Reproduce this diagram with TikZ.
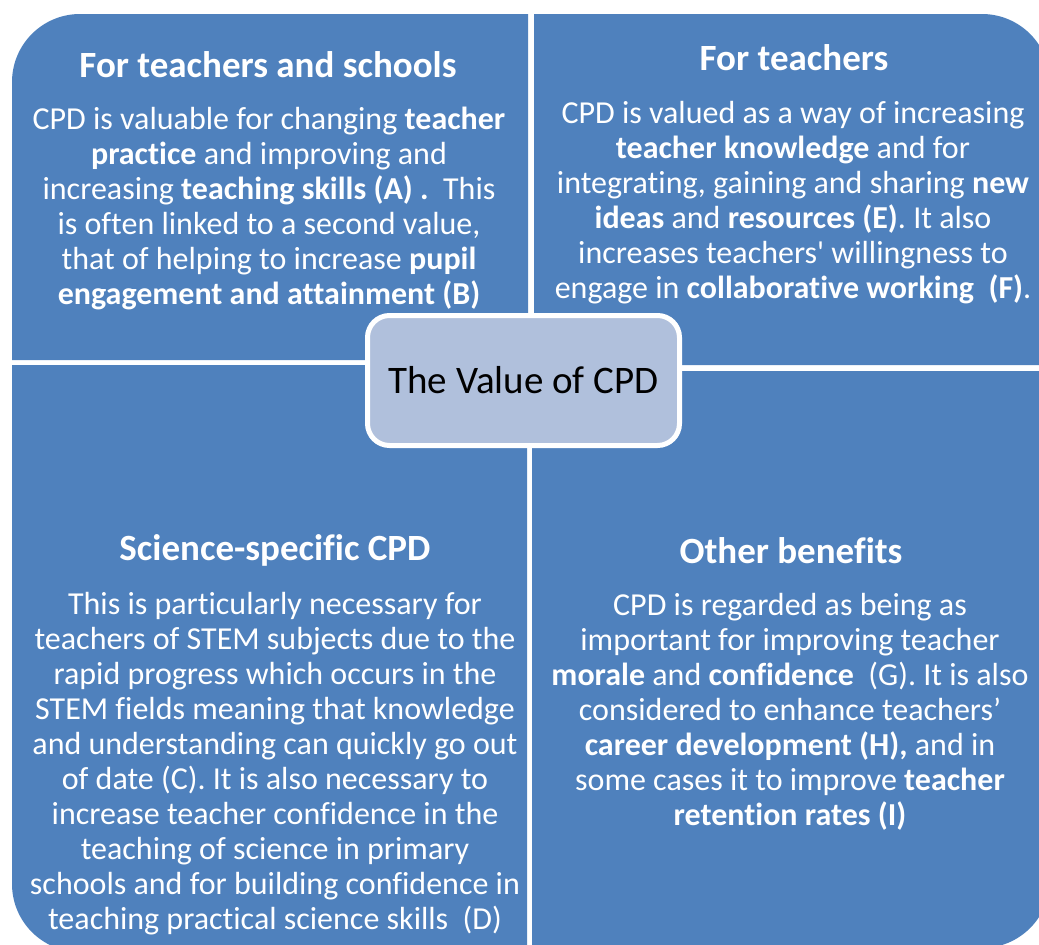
\documentclass[tikz,border=0pt]{standalone}
\usepackage{fontspec}
\setmainfont{Carlito}[Ligatures={TeX,NoCommon}]
\usetikzlibrary{positioning}
\definecolor{quadblue}{RGB}{79,129,189}
\definecolor{hubblue}{RGB}{176,192,220}

\begin{document}
\begin{tikzpicture}[x=1pt,y=-1pt,
  heading/.style={text=white, font=\fontsize{37}{43}\selectfont\bfseries, anchor=base, inner sep=0pt},
  blurb/.style={text=white, font=\fontsize{32}{35}\selectfont, align=center, anchor=base, inner sep=0pt},
  hub/.style={draw=white, line width=5pt, fill=hubblue, rounded corners=22pt,
    minimum width=312pt, minimum height=130pt, font=\fontsize{39}{45}\selectfont}]
% Basic parameters for corners
\def\bigradius{68pt}

% Fix the page size
\useasboundingbox (0,0) rectangle (1039,945);
\clip (0,0) rectangle (1039,945);

% Draw four quadrants
\fill[quadblue] (528,360) -- (12,360) [rounded corners=\bigradius] -- (12,14) [sharp corners] -- (528,14) -- cycle;
\fill[quadblue] (534,365) -- (534,14) [rounded corners=\bigradius] -- (1050,14) [sharp corners] -- (1050,365) -- cycle;
\fill[quadblue] (527,365) -- (12,365) [rounded corners=\bigradius] -- (12,952) [sharp corners] -- (527,952) -- cycle;
\fill[quadblue] (532,371) -- (1050,371) [rounded corners=\bigradius] -- (1050,948) [sharp corners] -- (532,948) -- cycle;

% Add centre box
\node[hub] (hub) at (523.5,380.5) {The Value of CPD};

% Add headings
\node[heading] (tlHead) at (268,77) {For teachers and schools};
\node[heading] (trHead) at (794,70) {For teachers};
\node[heading] (blHead) at (275,560) {Science-specific CPD};
\node[heading] (brHead) at (791,563) {Other benefits};

% Add texts (placed by their last line)
\node[blurb] (tlText) at (269,304) {CPD is valuable for changing \textbf{teacher}\\
  \textbf{practice} and improving and\\
  increasing \textbf{teaching skills (A) .}~ This\\
  is often linked to a second value,\\
  that of helping to increase \textbf{pupil}\\
  \textbf{engagement and attainment (B)}};
\node[blurb] (trText) at (793,298) {CPD is valued as a way of increasing\\
  \textbf{teacher knowledge} and for\\
  integrating, gaining and sharing \textbf{new}\\
  \textbf{ideas} and \textbf{resources (E)}. It also\\
  increases teachers\textquotesingle\ willingness to\\
  engage in \textbf{collaborative working~ (F)}.};
\node[blurb] (blText) at (275,929) {This is particularly necessary for\\
  teachers of STEM subjects due to the\\
  rapid progress which occurs in the\\
  STEM fields meaning that knowledge\\
  and understanding can quickly go out\\
  of date (C). It is also necessary to\\
  increase teacher confidence in the\\
  teaching of science in primary\\
  schools and for building confidence in\\
  teaching practical science skills~ (D)};
\node[blurb] (brText) at (790,825) {CPD is regarded as being as\\
  important for improving teacher\\
  \textbf{morale} and \textbf{confidence}~ (G). It is also\\
  considered to enhance teachers’\\
  \textbf{career development (H),} and in\\
  some cases it to improve \textbf{teacher}\\
  \textbf{retention rates (I)}};
\end{tikzpicture}
\end{document}
